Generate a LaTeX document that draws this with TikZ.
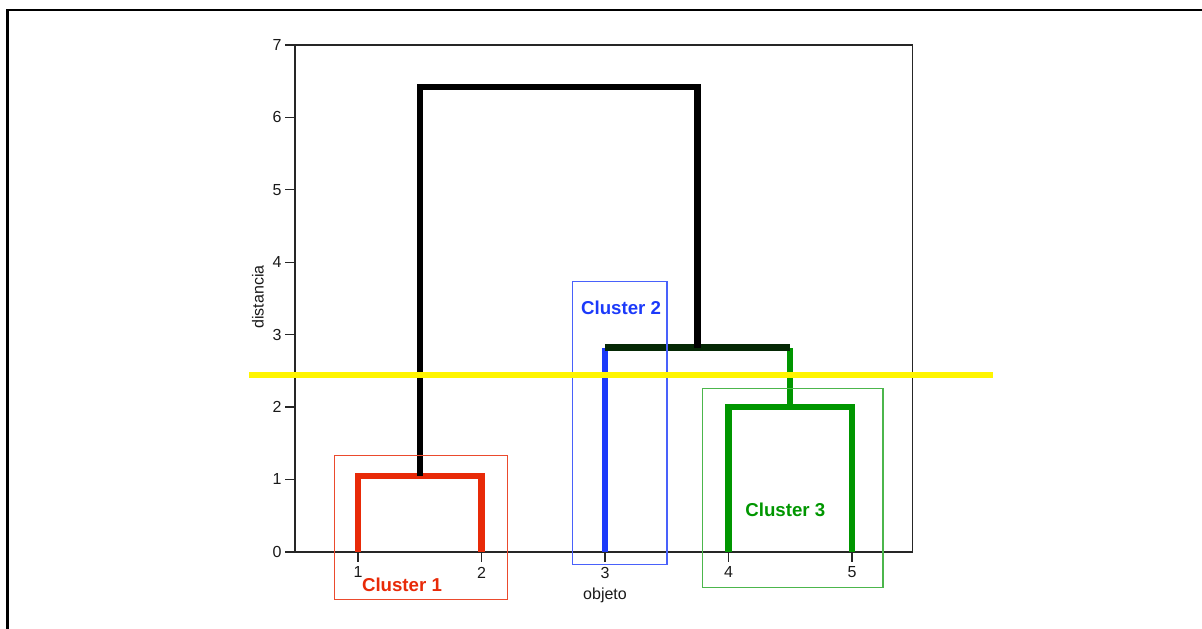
\documentclass[tikz,border=0pt]{standalone}
\usepackage{fontspec}
\setmainfont{Liberation Sans}
\definecolor{clred}{RGB}{232,42,8}
\definecolor{clblue}{RGB}{28,58,250}
\definecolor{clgreen}{RGB}{0,150,0}
\definecolor{cldark}{RGB}{5,40,5}
\definecolor{cutyellow}{RGB}{255,245,0}
\begin{document}
\begin{tikzpicture}[x=92.6pt, y=54.3pt,
    axis_style/.style={line width=1pt, black!85},
    tick_label/.style={font=\fontsize{12}{14}\selectfont, inner sep=1pt, text=black!90},
    link_style/.style={line width=4.8pt, line join=miter},
    box_style/.style={line width=0.8pt},
    cluster_label/.style={font=\bfseries\fontsize{14}{16}\selectfont}
]
\useasboundingbox (-2.389,-1.063) rectangle (7.344,7.621);
% Marco exterior
\draw[line width=2pt] (-2.328,-1.063) -- (-2.328,7.483) -- (7.344,7.483);
% Ejes
\draw[axis_style] (0,0) rectangle (5,7);
\foreach \y in {0,...,7} {
    \draw[axis_style] (0,\y) -- ++(-7.5pt,0);
    \node[tick_label, left=9pt] (ytick\y) at (0,\y) {\y};
}
\foreach \i in {1,...,5} {
    \coordinate (leaf\i) at (\i-0.49,0);
    \draw[axis_style] (leaf\i) -- ++(0,-7.5pt);
    \node[tick_label, below=10pt] (xtick\i) at (leaf\i) {\i};
}
\node[tick_label, rotate=90] (ylab) at (-0.30,3.52) {distancia};
\node[tick_label] (xlab) at (2.51,-0.594) {objeto};
% Fusiones
\coordinate (m12) at (1.01,1.05);
\coordinate (m45) at (4.01,2.0);
\coordinate (m345) at (3.26,2.82);
\coordinate (mtop) at (2.135,6.42);
% Dendrograma
\draw[link_style, clred] (leaf1) -- (leaf1 |- m12) -- (leaf2 |- m12) -- (leaf2);
\draw[link_style, clgreen] (leaf4) -- (leaf4 |- m45) -- (leaf5 |- m45) -- (leaf5);
\draw[link_style, clgreen] (m45) -- (m45 |- m345);
\draw[link_style, clblue] (leaf3) -- (leaf3 |- m345);
\draw[link_style, cldark] (leaf3 |- m345) -- (m45 |- m345);
\draw[link_style, black] (m12) -- (m12 |- mtop) -- (m345 |- mtop) -- (m345);
% Grupos
\draw[box_style, clred!85] (0.316,-0.663) rectangle (1.717,1.325);
\draw[box_style, clblue!80] (2.243,-0.179) rectangle (3.012,3.728);
\draw[box_style, clgreen!70] (3.296,-0.497) rectangle (4.761,2.25);
% Corte
\coordinate (cutl) at (-0.372,2.44);
\coordinate (cutr) at (5.652,2.44);
\draw[line width=4.5pt, cutyellow] (cutl) -- (cutr);
% Etiquetas
\node[cluster_label, clred] (c1) at (0.866,-0.456) {Cluster 1};
\node[cluster_label, clblue] (c2) at (2.64,3.37) {Cluster 2};
\node[cluster_label, clgreen] (c3) at (3.97,0.58) {Cluster 3};
\end{tikzpicture}
\end{document}
